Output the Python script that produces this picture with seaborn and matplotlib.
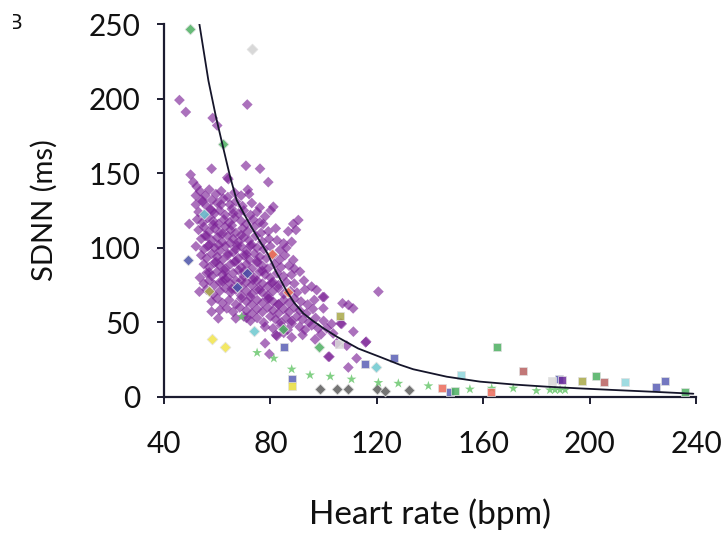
import matplotlib
matplotlib.use("Agg")
import matplotlib.pyplot as plt
from matplotlib.patches import Rectangle
import seaborn as sns

# ---------------- data ----------------
purple_hr = [
    45.8, 48.2, 71.3, 58.3, 60.0, 50.0, 51.0, 52.3, 57.9, 63.8, 64.2, 70.8, 76.1, 79.2, 71.5, 49.5, 52.0, 54.2,
    53.5, 55.5, 57.0, 59.5, 61.5, 64.0, 66.5, 69.0, 72.0,
    52.0, 54.5, 56.0, 58.0, 60.0, 62.3, 64.8, 67.0, 69.5, 73.0, 76.0, 81.1,
    53.0, 55.0, 57.5, 59.0, 61.0, 63.0, 65.5, 68.0, 70.0, 72.5, 75.0, 78.0, 80.1,
    52.5, 54.5, 56.5, 58.5, 60.5, 62.5, 64.5, 66.5, 69.0, 71.0, 73.5, 76.0, 77.3, 88.6, 90.5,
    53.0, 55.0, 57.0, 59.0, 61.0, 63.0, 65.0, 67.0, 69.5, 71.5, 74.0, 76.5, 79.2, 82.0, 86.7, 89.6,
    54.0, 56.0, 58.0, 60.0, 62.0, 64.0, 66.0, 68.0, 70.0, 72.0, 74.5, 77.0, 79.5, 82.5, 85.0, 88.0,
    52.0, 55.0, 57.0, 59.0, 61.0, 63.0, 65.0, 67.0, 69.0, 71.0, 73.0, 75.0, 77.5, 80.0, 83.6, 86.0,
    54.0, 56.0, 58.0, 60.0, 62.0, 64.0, 66.0, 68.0, 70.0, 72.0, 74.0, 76.0, 78.5, 81.0, 83.5, 85.5, 88.6,
    55.0, 57.0, 59.0, 61.0, 63.0, 65.0, 67.0, 69.0, 71.0, 73.0, 75.0, 77.0, 79.0, 81.5, 84.0, 87.0, 89.0,
    53.5, 56.0, 58.0, 60.0, 62.0, 64.0, 66.0, 68.0, 70.0, 72.0, 74.0, 76.0, 78.0, 80.0, 82.5, 85.0, 88.0, 91.1,
    55.0, 57.0, 59.0, 61.0, 63.0, 65.0, 67.0, 69.0, 71.0, 73.0, 75.0, 77.0, 79.0, 81.0, 83.0, 86.0, 89.0, 92.6, 95.5,
    53.3, 56.0, 58.5, 61.0, 63.0, 65.0, 67.0, 69.0, 71.0, 73.0, 75.0, 77.0, 79.0, 81.0, 83.0, 85.0, 87.5, 90.0, 93.0, 97.4, 99.7,
    57.9, 60.0, 62.0, 64.5, 67.0, 69.0, 71.0, 73.0, 75.0, 77.0, 79.0, 81.0, 83.0, 85.0, 87.0, 89.0, 91.5, 94.0, 96.5, 100.2,
    61.0, 63.6, 66.0, 68.5, 71.0, 73.0, 75.0, 77.0, 79.0, 81.0, 83.0, 85.0, 87.0, 89.0, 91.0, 93.5, 96.0, 99.9, 109.3, 111.1, 107.1,
    60.4, 57.9, 67.0, 70.0, 72.5, 75.0, 77.5, 80.0, 82.0, 84.0, 86.0, 88.0, 90.0, 92.0, 94.5, 97.0, 100.0, 103.0,
    71.0, 78.0, 81.0, 84.0, 86.5, 88.0, 91.0, 93.0, 95.5, 98.0, 101.2, 106.4, 106.8, 111.2,
    82.4, 82.1, 85.0, 88.0, 92.1, 96.8, 103.6, 116.0, 99.0,
    78.0, 79.6, 102.2, 104.9, 108.7, 109.3, 112.4, 115.8, 120.6, 101.8,
    58.5, 62.0, 65.5, 69.0, 72.5, 60.5, 64.0, 67.5, 71.0, 75.0,
    59.5, 63.0, 66.5, 70.0, 73.5, 77.0, 80.5, 62.0, 65.5, 69.0,
    72.5, 76.0, 79.5, 83.0, 57.0, 56.5, 58.0, 61.5, 55.5, 66.0,
]
purple_sdnn = [
    199, 191, 196, 187, 182, 149, 144, 141, 153, 147, 146, 155, 153, 144, 139, 116, 135, 132,
    138, 135, 139, 136, 138, 134, 137, 135, 136,
    129, 131, 128, 132, 130, 133, 129, 131, 128, 130, 127, 127.5,
    124, 122, 126, 123, 125, 122, 126, 123, 125, 122, 124, 121, 125,
    119, 117, 120, 118, 116, 119, 117, 120, 118, 116, 119, 117, 116, 116, 118.6,
    112, 114, 111, 113, 110, 114, 112, 110, 113, 111, 114, 110, 111, 113, 111, 112,
    106, 108, 105, 107, 104, 108, 106, 104, 107, 105, 108, 104, 106, 105, 103, 104,
    101, 99, 102, 100, 98, 101, 103, 99, 101, 98, 102, 100, 99, 101, 98.5, 100,
    95, 93, 96, 94, 92, 95, 97, 93, 95, 92, 96, 94, 93, 95, 92, 95, 91.8,
    89, 87, 90, 88, 86, 89, 91, 87, 89, 86, 90, 88, 86, 89, 87, 88, 86,
    80, 83, 81, 84, 82, 80, 83, 85, 81, 83, 80, 84, 82, 80, 83, 81, 82, 84,
    76, 78, 75, 77, 79, 76, 78, 74, 77, 75, 78, 76, 74, 77, 75, 77, 76, 78, 74,
    70.6, 72, 69, 71, 73, 70, 72, 68, 71, 69, 72, 70, 68, 71, 73, 69, 71, 70, 72, 71.7, 67,
    64, 66, 63, 65, 62, 66, 64, 62, 65, 63, 66, 64, 62, 65, 63, 66, 64, 62, 65, 67,
    58.3, 59.4, 57, 60, 58, 56, 59, 57, 60, 58, 56, 59, 57, 60, 58, 56, 59, 59.4, 61.7, 59.4, 62.8,
    52.7, 57.2, 52.7, 54, 51, 53, 50, 54, 52, 50, 53, 51, 54, 52, 50, 53, 51, 49,
    53, 47, 46, 48, 45, 49.3, 47, 45, 48, 46, 46, 49.3, 49, 43.8,
    40.9, 41.6, 43, 40, 41.6, 38.6, 42.6, 37.1, 42,
    36, 28.8, 27, 36, 34.4, 19.8, 25.9, 36.6, 70.6, 27,
    115.5, 109.5, 115, 108.5, 101.5, 102, 96, 101.5, 95.5, 91,
    90.5, 84.5, 90.5, 84, 78.5, 84.5, 76.5, 77.5, 72.5, 78,
    67, 72, 66, 62, 83.5, 101, 124.5, 129, 108, 123,
]

green_diamond_hr = [49.8, 62.0, 84.8, 98.2]
green_diamond_sdnn = [246.6, 169.3, 45.6, 33.5]
grey_diamond_hr = [73.2]
grey_diamond_sdnn = [233]
cyan_diamond_hr = [55.2, 73.8, 119.6]
cyan_diamond_sdnn = [122.6, 44.2, 20.3]
blue_diamond_hr = [49.0, 71.3, 67.6]
blue_diamond_sdnn = [92, 82.9, 74]
yellow_diamond_hr = [57.9, 62.9]
yellow_diamond_sdnn = [38.7, 33.7]
dark_diamond_hr = [98.8, 104.9, 109.0, 120.0, 123.1, 132.2]
dark_diamond_sdnn = [5.2, 5.2, 5.2, 5.2, 4.2, 4.7]
orange_diamond_hr = [80.5, 86.5]
orange_diamond_sdnn = [95.8, 70.6]
olive_diamond_hr = [57.0]
olive_diamond_sdnn = [71]

star_hr = [69.2, 75.0, 81.3, 88.0, 94.9, 102.5, 110.5, 120.6, 128.1, 139.4, 155.0, 163.2, 171.3, 180.0,
           185.1, 187.0, 188.9, 190.8]
star_sdnn = [53.8, 29.7, 25.9, 18.6, 14.7, 13.8, 11.9, 9.6, 9.1, 7.4, 5.2, 5.8, 5.8, 4.2,
             4.7, 4.7, 4.7, 4.7]

blue_sq_hr = [85.1, 88.3, 115.7, 126.5, 147.5, 188.6, 225.0, 228.3]
blue_sq_sdnn = [33.7, 12.2, 22.0, 26.3, 3.6, 12.3, 6.9, 10.9]
yellow_sq_hr = [88.0]
yellow_sq_sdnn = [7.4]
olive_sq_hr = [106.2, 197.0]
olive_sq_sdnn = [54.6, 10.9]
grey_sq_hr = [105.9, 185.8]
grey_sq_sdnn = [35.3, 10.9]
cyan_sq_hr = [151.7, 213.3]
cyan_sq_sdnn = [14.7, 10.3]
green_sq_hr = [149.4, 165.0, 202.4, 235.9]
green_sq_sdnn = [4.2, 33.7, 14.1, 3.6]
red_sq_hr = [144.4, 162.9]
red_sq_sdnn = [5.8, 3.6]
brown_sq_hr = [174.8, 205.6]
brown_sq_sdnn = [17.6, 9.8]
purple_sq_hr = [189.5]
purple_sq_sdnn = [11.4]

curve_hr = [53.3, 56.7, 59.5, 62.0, 64.8, 67.3, 70.0, 73.0, 76.0, 79.0, 82.0, 86.1, 89.0,
            92.4, 96.0, 100.0, 105.0, 113.0, 121.0, 128.7, 133.7, 146.3, 158.8, 172.0,
            184.0, 197.0, 209.0, 224.0, 239.0]
curve_sdnn = [250, 212, 188, 169, 148, 132, 123, 113.5, 104.5, 96, 84.5, 71, 63,
              56, 51, 46, 40.4, 32.5, 27, 21.6, 18.6, 13.6, 10.3, 8.3,
              6.9, 5.7, 4.7, 3.5, 2.2]

x_ticks = [40, 80, 120, 160, 200, 240]
y_ticks = [0, 50, 100, 150, 200, 250]
x_label = "Heart rate (bpm)"
y_label = "SDNN (ms)"
panel_label = "B"

# ---------------- drawing ----------------
sns.set_theme(style="white")
plt.rcParams['font.family'] = ['Lato', 'DejaVu Sans']

W, H = 724, 539
fig = plt.figure(figsize=(W / 100, H / 100), dpi=100)
ax = fig.add_axes([164 / W, 1 - 397 / H, 532 / W, 373 / H])

sns.scatterplot(x=purple_hr, y=purple_sdnn, marker="D", s=30, color="#7a1f95",
                alpha=0.63, edgecolor="none", linewidth=0, ax=ax, zorder=2)

groups = [
    (green_diamond_hr, green_diamond_sdnn, "D", "#4cb060", 30),
    (grey_diamond_hr, grey_diamond_sdnn, "D", "#d2d2d2", 30),
    (cyan_diamond_hr, cyan_diamond_sdnn, "D", "#6cc8cf", 30),
    (blue_diamond_hr, blue_diamond_sdnn, "D", "#4a52a8", 30),
    (yellow_diamond_hr, yellow_diamond_sdnn, "D", "#f2e54a", 30),
    (dark_diamond_hr, dark_diamond_sdnn, "D", "#5c5c5c", 30),
    (orange_diamond_hr, orange_diamond_sdnn, "D", "#f07050", 30),
    (olive_diamond_hr, olive_diamond_sdnn, "D", "#a8a848", 30),
    (star_hr, star_sdnn, "*", "#6cc870", 55),
    (blue_sq_hr, blue_sq_sdnn, "s", "#5a5fb5", 40),
    (yellow_sq_hr, yellow_sq_sdnn, "s", "#e8dc3c", 40),
    (olive_sq_hr, olive_sq_sdnn, "s", "#a8a848", 40),
    (grey_sq_hr, grey_sq_sdnn, "s", "#d8d8d8", 40),
    (cyan_sq_hr, cyan_sq_sdnn, "s", "#8fd6dc", 40),
    (green_sq_hr, green_sq_sdnn, "s", "#4cb060", 40),
    (red_sq_hr, red_sq_sdnn, "s", "#ec6a5a", 40),
    (brown_sq_hr, brown_sq_sdnn, "s", "#b86060", 40),
    (purple_sq_hr, purple_sq_sdnn, "s", "#6a2a9a", 40),
]
for hr, sd, mk, col, size in groups:
    sns.scatterplot(x=hr, y=sd, marker=mk, s=size, color=col, alpha=0.85,
                    edgecolor="#e0e0e0" if mk != "*" else "none", linewidth=0.6,
                    ax=ax, zorder=3, clip_on=False)

sns.lineplot(x=curve_hr, y=curve_sdnn, sort=False, color="#15152a", linewidth=1.3,
             ax=ax, zorder=4)

ax.set_xlim(40, 240)
ax.set_ylim(0, 250)
ax.set_xticks(x_ticks)
ax.set_yticks(y_ticks)
for s in ["top", "right"]:
    ax.spines[s].set_visible(False)
for s in ["left", "bottom"]:
    ax.spines[s].set_color("#1c1c30")
    ax.spines[s].set_linewidth(1.6)
ax.tick_params(axis="both", which="major", direction="out", length=5, width=1.4,
               color="#1c1c30", labelsize=21.5, labelcolor="#111111",
               bottom=True, left=True)
ax.tick_params(axis="x", pad=19)
ax.tick_params(axis="y", pad=12)
ax.set_xlabel(x_label, fontsize=24, color="#111111", labelpad=29)
ax.set_ylabel(y_label, fontsize=21, color="#111111", labelpad=22)
ax.grid(False)

fig.text(22 / W, 1 - 13 / H, panel_label, fontsize=15, ha="right", va="top", color="#111111")
fig.patches.append(Rectangle((0, 0), 13 / W, 1, transform=fig.transFigure,
                             facecolor="white", edgecolor="none", zorder=10))

fig.savefig("out.png", dpi=100)
